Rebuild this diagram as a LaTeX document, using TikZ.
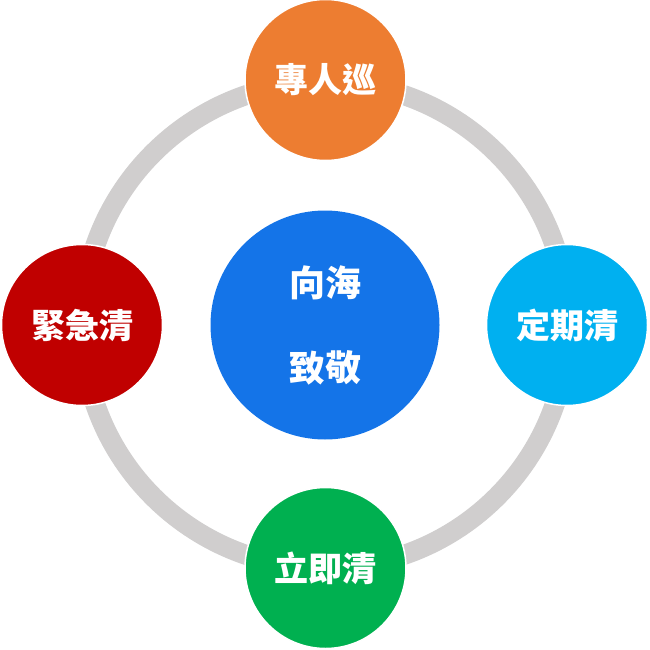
\documentclass[tikz,border=0pt]{standalone}
\usepackage{fontspec}
\newfontfamily\cjk{Noto Sans CJK TC}
\usepackage{tikz}

\definecolor{ringgray}{HTML}{D0CECE}
\definecolor{topcol}{HTML}{ED7D31}
\definecolor{leftcol}{HTML}{C00000}
\definecolor{rightcol}{HTML}{00B0F0}
\definecolor{bottomcol}{HTML}{00B050}
\definecolor{midcol}{HTML}{1474E8}

\tikzset{
  dot/.style={circle, draw=white, line width=1.5pt, minimum size=161pt, inner sep=0pt,
    text=white, font=\cjk\bfseries\fontsize{34}{40}\selectfont},
  hub/.style={circle, fill=midcol, minimum size=229pt, inner sep=0pt, align=center,
    text=white, font=\cjk\bfseries\fontsize{36}{85}\selectfont}
}

\begin{document}
\begin{tikzpicture}[line cap=round, line join=round, x=1pt, y=-1pt]
                \useasboundingbox (0, 0) rectangle (649, 650);

                % Ring
                \draw[ringgray, line width=20pt] (325, 325) circle (243);

                % Centre
                \node[hub] (hub) at (325, 325) {向海\\致敬};

                % Top
                \node[dot, fill=topcol] (top) at (325.5, 80) {專人巡};

                % Left
                \node[dot, fill=leftcol] (left) at (82, 325) {緊急清};

                % Right
                \node[dot, fill=rightcol] (right) at (567, 325) {定期清};

                % Bottom
                \node[dot, fill=bottomcol] (bottom) at (325.5, 568) {立即清};
            \end{tikzpicture}
\end{document}
